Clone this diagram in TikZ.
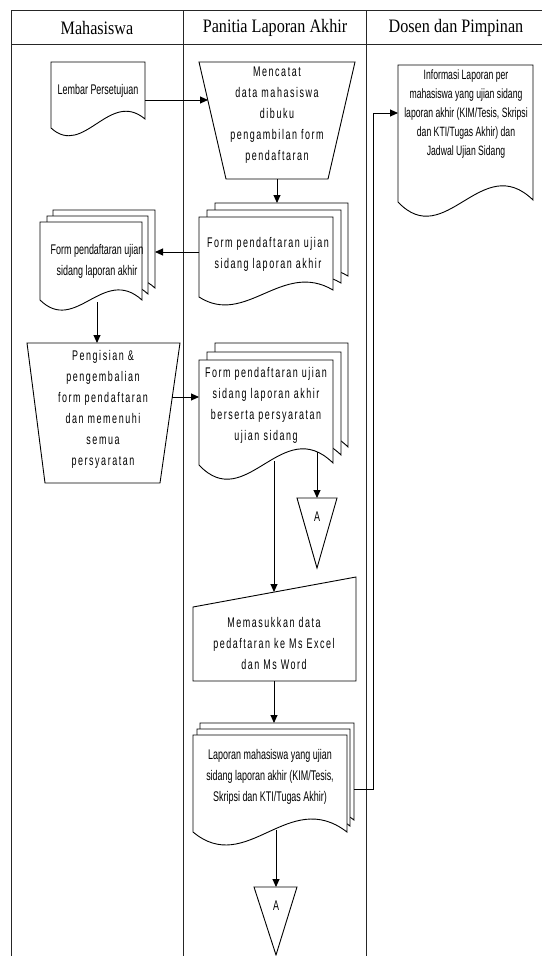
\documentclass[tikz,border=0pt]{standalone}
\usepackage{fontspec}
\setmainfont{Liberation Serif}
\newfontfamily\headfont[FakeStretch=0.85]{Liberation Serif}
\newfontfamily\narrowfont[FakeStretch=0.64]{Liberation Sans}
\newfontfamily\spacedfont[FakeStretch=0.64,LetterSpace=11]{Liberation Sans}
\usetikzlibrary{arrows.meta}

\tikzset{
  lane/.style={line width=1pt, draw=black!85},
  sym/.style={draw, fill=white, line width=0.9pt},
  flow/.style={line width=0.9pt, -{Triangle[length=8pt,width=7pt]}},
  txt/.style={font=\narrowfont\fontsize{14}{21}\selectfont, align=center, inner sep=0pt},
  stxt/.style={font=\spacedfont\fontsize{14}{21}\selectfont, align=center, inner sep=0pt},
  head/.style={font=\headfont\fontsize{19}{21}\selectfont, inner sep=0pt},
}

% document page: left, top, right, bottom-left y, bottom-right y, wave size
\newcommand{\docpage}[6]{%
  \pgfmathsetmacro{\wva}{#1+0.35*(#3-#1)}
  \pgfmathsetmacro{\wvb}{#1+0.62*(#3-#1)}
  \pgfmathsetmacro{\wya}{#4+#6}
  \pgfmathsetmacro{\wyb}{#5-#6}
  \draw[sym] (#1,#4) -- (#1,#2) -- (#3,#2) -- (#3,#5)
    .. controls (\wvb,\wyb) and (\wva,\wya) .. (#1,#4) -- cycle;
}

\begin{document}
\begin{tikzpicture}[x=1pt,y=-1pt]
  \useasboundingbox (0,0) rectangle (542,956);

  % swimlanes
  \draw[lane] (11,956) -- (11,10) -- (542,10);
  \draw[lane] (11,44) -- (542,44);
  \draw[lane] (183,10) -- (183,956);
  \draw[lane] (366,10) -- (366,956);
  \node[head] (hmhs) at (97,28) {Mahasiswa};
  \node[head] (hpan) at (275,28) {Panitia Laporan Akhir};
  \node[head] (hdos) at (456,28) {Dosen dan Pimpinan};

  % Mahasiswa
  \docpage{51}{62}{145}{128}{119}{30}
  \node[txt] (lembar) at (98,91) {Lembar Persetujuan};

  \docpage{53}{210}{155}{288}{288}{35}
  \docpage{47}{216}{148}{294}{294}{35}
  \docpage{40}{222}{142}{300}{300}{35}
  \node[txt] (formmhs) at (97,261) {Form pendaftaran ujian\\sidang laporan akhir};

  \draw[sym] (27,343) -- (180,343) -- (160,483) -- (45,483) -- cycle;
  \node[stxt] (isi) at (103,409) {Pengisian \&\\pengembalian\\form pendaftaran\\dan memenuhi\\semua\\persyaratan};

  % Panitia
  \draw[sym] (199,62) -- (355,62) -- (328,179) -- (226,179) -- cycle;
  \node[stxt] (catat) at (277,115) {Mencatat\\data mahasiswa\\dibuku\\pengambilan form\\pendaftaran};

  \docpage{215}{203}{348}{283}{276}{30}
  \docpage{207}{210}{341}{290}{283}{30}
  \docpage{199}{217}{333}{297}{290}{30}
  \node[stxt] (formpan) at (268,254) {Form pendaftaran ujian\\sidang laporan akhir};

  \docpage{215}{343}{348}{449}{447}{50}
  \docpage{207}{352}{341}{457}{455}{50}
  \docpage{199}{360}{333}{465}{463}{50}
  \node[stxt] (syarat) at (266,405) {Form pendaftaran ujian\\sidang laporan akhir\\berserta persyaratan\\ujian sidang};

  \draw[sym] (297,498) -- (337,498) -- (317,568) -- cycle;
  \node[txt] (offa) at (317,517) {A};

  \draw[sym] (193,607) -- (356,577) -- (356,681) -- (193,681) -- cycle;
  \node[stxt] (excel) at (274,643) {Memasukkan data\\pedaftaran ke Ms Excel\\dan Ms Word};

  \docpage{200}{723}{354}{820}{820}{45}
  \docpage{197}{729}{350}{826}{826}{45}
  \docpage{193}{735}{347}{832}{832}{45}
  \node[txt] (lapmhs) at (270,777) {Laporan mahasiswa yang ujian\\sidang laporan akhir (KIM/Tesis,\\Skripsi dan KTI/Tugas Akhir)};

  \draw[sym] (254,887) -- (297,887) -- (276,955) -- cycle;
  \node[txt] (offb) at (276,906) {A};

  % Dosen dan Pimpinan
  \docpage{398}{65}{533}{202}{200}{50}
  \node[txt, font=\narrowfont\fontsize{13.5}{19}\selectfont] (info) at (466,114) {Informasi Laporan per\\mahasiswa yang ujian sidang\\laporan akhir (KIM/Tesis, Skripsi\\dan KTI/Tugas Akhir) dan\\Jadwal Ujian Sidang};

  % connection points
  \coordinate (lembarR) at (145,100);
  \coordinate (catatL) at (208,100);
  \coordinate (catatB) at (277,179);
  \coordinate (formpanT) at (277,203);
  \coordinate (formpanL) at (199,252);
  \coordinate (formmhsR) at (155,252);
  \coordinate (formmhsB) at (97,302);
  \coordinate (isiT) at (97,343);
  \coordinate (isiR) at (172,397);
  \coordinate (syaratL) at (199,397);
  \coordinate (syaratB) at (274,461);
  \coordinate (excelT) at (274,592);
  \coordinate (syaratC) at (317,452);
  \coordinate (offaT) at (317,498);
  \coordinate (excelB) at (274,681);
  \coordinate (lapmhsT) at (274,723);
  \coordinate (lapmhsB) at (276,830);
  \coordinate (offbT) at (276,887);
  \coordinate (lapmhsR) at (354,789);
  \coordinate (infoL) at (398,113);

  % connectors
  \draw[flow] (lembarR) -- (catatL);
  \draw[flow] (catatB) -- (formpanT);
  \draw[flow] (formpanL) -- (formmhsR);
  \draw[flow] (formmhsB) -- (isiT);
  \draw[flow] (isiR) -- (syaratL);
  \draw[flow] (syaratB) -- (excelT);
  \draw[flow] (syaratC) -- (offaT);
  \draw[flow] (excelB) -- (lapmhsT);
  \draw[flow] (lapmhsB) -- (offbT);
  \draw[flow] (lapmhsR) -- (373,789) |- (infoL);
\end{tikzpicture}
\end{document}
